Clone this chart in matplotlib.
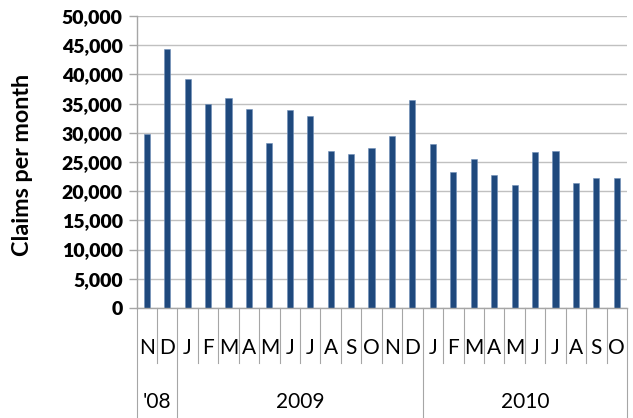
import matplotlib
matplotlib.use("Agg")
import matplotlib.pyplot as plt
from matplotlib.font_manager import FontProperties

plt.rcParams['font.family'] = ['Lato', 'DejaVu Sans']

# =============================================================================
# data: monthly claims, Nov 2008 - Oct 2010
# =============================================================================
months = ["N", "D",
          "J", "F", "M", "A", "M", "J", "J", "A", "S", "O", "N", "D",
          "J", "F", "M", "A", "M", "J", "J", "A", "S", "O"]
claims = [29800, 44300,
          39200, 34900, 36000, 34000, 28300, 33900, 32900, 26800, 26400, 27400, 29400, 35700,
          28100, 23300, 25500, 22700, 21100, 26700, 26800, 21400, 22300, 22300]
years = ["'08", "2009", "2010"]
year_counts = [2, 12, 10]
y_ticks = list(range(0, 50001, 5000))

bar_color = "#1F497D"
grid_color = "#c0c0c0"
axis_color = "#a6a6a6"

bold_tick = FontProperties(family="Lato", weight="heavy", size=14)

fig = plt.figure(figsize=(6.33, 4.18), dpi=100)
ax = fig.add_axes([0.2157, 0.2632, 0.7748, 0.6985])

x = list(range(len(claims)))
ax.bar(x, claims, width=0.3, color=bar_color, edgecolor="#6f8fb8", linewidth=0.4, zorder=3)

ax.set_xlim(-0.5, len(claims) - 0.5)
ax.set_ylim(0, 50000)
ax.grid(axis="y", color=grid_color, linewidth=1.0, zorder=0)
ax.set_axisbelow(True)

for s in ["top", "right", "bottom"]:
    ax.spines[s].set_visible(False)
ax.spines["left"].set_color(axis_color)
ax.spines["left"].set_linewidth(1.0)
ax.tick_params(axis="y", colors=axis_color, length=6, width=1.0, pad=4,
               labelcolor="black")
ax.set_yticks(y_ticks)
ax.set_yticklabels([f"{v:,}" for v in y_ticks], fontproperties=bold_tick)
ax.set_xticks([])

ax.set_ylabel("Claims per month", fontsize=16.8, fontweight="bold")
ax.yaxis.set_label_coords(-0.211, 0.49)

# multi-level category axis
tr = ax.get_xaxis_transform()
ax.plot([-0.5, len(claims) - 0.5], [0, 0], color=axis_color, lw=1.0,
        transform=tr, clip_on=False, zorder=4)
month_bottom = -0.188
table_bottom = -0.38
year_edges = [-0.5]
for c in year_counts:
    year_edges.append(year_edges[-1] + c)
for k in range(len(claims) + 1):
    xb = k - 0.5
    yb = table_bottom if xb in year_edges else month_bottom
    ax.plot([xb, xb], [0, yb], color=axis_color, lw=0.8, transform=tr, clip_on=False)

for i, m in enumerate(months):
    ax.text(i, -0.137, m, transform=tr, ha="center", va="center", fontsize=15)

for j, yr in enumerate(years):
    xc = (year_edges[j] + year_edges[j + 1]) / 2
    ax.text(xc, -0.322, yr, transform=tr, ha="center", va="center", fontsize=15)

fig.savefig("out.png", dpi=100)
